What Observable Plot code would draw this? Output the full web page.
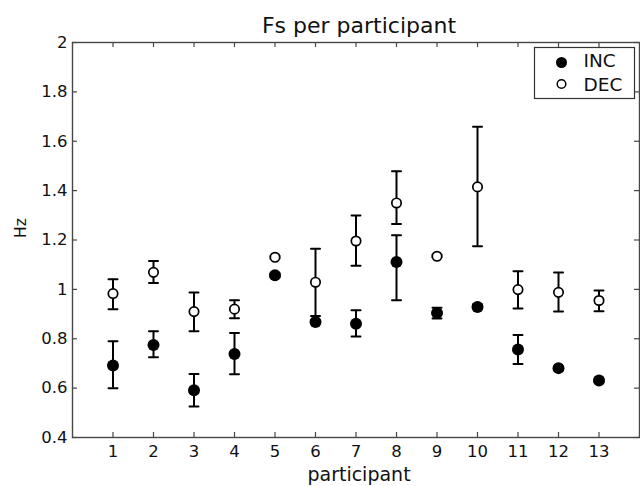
<!DOCTYPE html>
<html>
<head>
<meta charset="utf-8">
<script src="https://cdn.jsdelivr.net/npm/d3@7"></script>
<script src="https://cdn.jsdelivr.net/npm/@observablehq/plot@0.6"></script>
<style>
  html, body { margin: 0; padding: 0; background: white; }
  #chart { width: 640px; height: 486px; }
</style>
</head>
<body>
<div id="chart"></div>
<script>
// ---- data ----
const participants = [1, 2, 3, 4, 5, 6, 7, 8, 9, 10, 11, 12, 13];
const incMean = [0.692, 0.775, 0.591, 0.738, 1.057, 0.868, 0.861, 1.111, 0.904, 0.929, 0.756, 0.681, 0.631];
const incLow  = [0.599, 0.725, 0.526, 0.656, 1.050, 0.860, 0.809, 0.956, 0.882, 0.920, 0.698, 0.675, 0.625];
const incHigh = [0.790, 0.830, 0.657, 0.823, 1.065, 0.875, 0.915, 1.219, 0.926, 0.940, 0.815, 0.688, 0.638];
const decMean = [0.983, 1.069, 0.910, 0.920, 1.130, 1.029, 1.196, 1.350, 1.134, 1.415, 0.999, 0.988, 0.955];
const decLow  = [0.920, 1.026, 0.830, 0.883, 1.125, 0.892, 1.096, 1.265, 1.130, 1.175, 0.923, 0.910, 0.911];
const decHigh = [1.041, 1.115, 0.987, 0.956, 1.135, 1.165, 1.299, 1.478, 1.140, 1.659, 1.073, 1.068, 0.995];
const xTicks = [1, 2, 3, 4, 5, 6, 7, 8, 9, 10, 11, 12, 13];
const yTicks = [0.4, 0.6, 0.8, 1, 1.2, 1.4, 1.6, 1.8, 2];
const seriesNames = ["INC", "DEC"];
const titleText = "Fs per participant";
const xLabel = "participant";
const yLabel = "Hz";

const inc = participants.map((p, i) => ({p, m: incMean[i], lo: incLow[i], hi: incHigh[i]}));
const dec = participants.map((p, i) => ({p, m: decMean[i], lo: decLow[i], hi: decHigh[i]}));

const W = 640, H = 486;
const mL = 72, mR = 1, mT = 42, mB = 49;
const fw = W - mL - mR, fh = H - mT - mB;
const axisColor = "#474747";
const tickLen = 5;

const capShape = {
  draw(context, l) { context.moveTo(0, 0); context.lineTo(0, -l); }
};

function errorMarks(data) {
  return [
    Plot.ruleX(data, {x: "p", y1: "lo", y2: "hi", stroke: "black", strokeWidth: 2}),
    Plot.vector(data, {x: "p", y: "hi", length: 9, rotate: 90, anchor: "middle", shape: capShape, stroke: "black", strokeWidth: 2}),
    Plot.vector(data, {x: "p", y: "lo", length: 9, rotate: 90, anchor: "middle", shape: capShape, stroke: "black", strokeWidth: 2})
  ];
}

const chart = Plot.plot({
  width: W,
  height: H,
  marginLeft: mL, marginRight: mR, marginTop: mT, marginBottom: mB,
  x: {domain: [0, 14]},
  y: {domain: [0.4, 2]},
  style: {fontFamily: "'DejaVu Sans', sans-serif", fontSize: "16.5px", color: "#111", background: "white", overflow: "visible"},
  marks: [
    // ticks (inward, all four sides)
    Plot.tickX(xTicks, {x: d => d, insetTop: fh - tickLen, stroke: axisColor, strokeWidth: 1.2}),
    Plot.tickX(xTicks, {x: d => d, insetBottom: fh - tickLen, stroke: axisColor, strokeWidth: 1.2}),
    Plot.tickY(yTicks, {y: d => d, insetRight: fw - tickLen, stroke: axisColor, strokeWidth: 1.2}),
    Plot.tickY(yTicks, {y: d => d, insetLeft: fw - tickLen, stroke: axisColor, strokeWidth: 1.2}),
    Plot.axisX({ticks: xTicks, tickSize: 0, tickPadding: 8, label: null, tickFormat: d => String(d)}),
    Plot.axisY({ticks: yTicks, tickSize: 0, tickPadding: 5, label: null, tickFormat: d => String(+d.toFixed(1))}),
    Plot.frame({stroke: axisColor, strokeWidth: 1.4}),
    // error bars
    ...errorMarks(dec),
    ...errorMarks(inc),
    // markers
    Plot.dot(dec, {x: "p", y: "m", r: 4.7, fill: "white", stroke: "black", strokeWidth: 1.7}),
    Plot.dot(inc, {x: "p", y: "m", r: 6, fill: "black", stroke: "none"}),
    // legend
    Plot.frame({insetLeft: 462, insetRight: 5, insetTop: 5, insetBottom: fh - 56, fill: "white", stroke: "#333", strokeWidth: 1.2}),
    Plot.dot([seriesNames[0]], {frameAnchor: "top-right", dx: -78, dy: 20, r: 5.5, fill: "black", stroke: "none"}),
    Plot.dot([seriesNames[1]], {frameAnchor: "top-right", dx: -78, dy: 41.5, r: 4.3, fill: "white", stroke: "black", strokeWidth: 1.5}),
    Plot.text([seriesNames[0]], {frameAnchor: "top-right", dx: -56, dy: 19, textAnchor: "start", lineAnchor: "middle", fontSize: 18.5, fill: "#111"}),
    Plot.text([seriesNames[1]], {frameAnchor: "top-right", dx: -56, dy: 43, textAnchor: "start", lineAnchor: "middle", fontSize: 18.5, fill: "#111"}),
    // titles
    Plot.text([titleText], {frameAnchor: "top", dx: 3, dy: -10, lineAnchor: "bottom", fontSize: 22, fill: "#111"}),
    Plot.text([xLabel], {frameAnchor: "bottom", dx: 3, dy: 43, lineAnchor: "bottom", fontSize: 19, fill: "#111"}),
    Plot.text([yLabel], {frameAnchor: "left", dx: -51, dy: -2, rotate: -90, lineAnchor: "middle", fontSize: 15.5, fill: "#111"})
  ]
});
document.getElementById("chart").appendChild(chart);
</script>
</body>
</html>
